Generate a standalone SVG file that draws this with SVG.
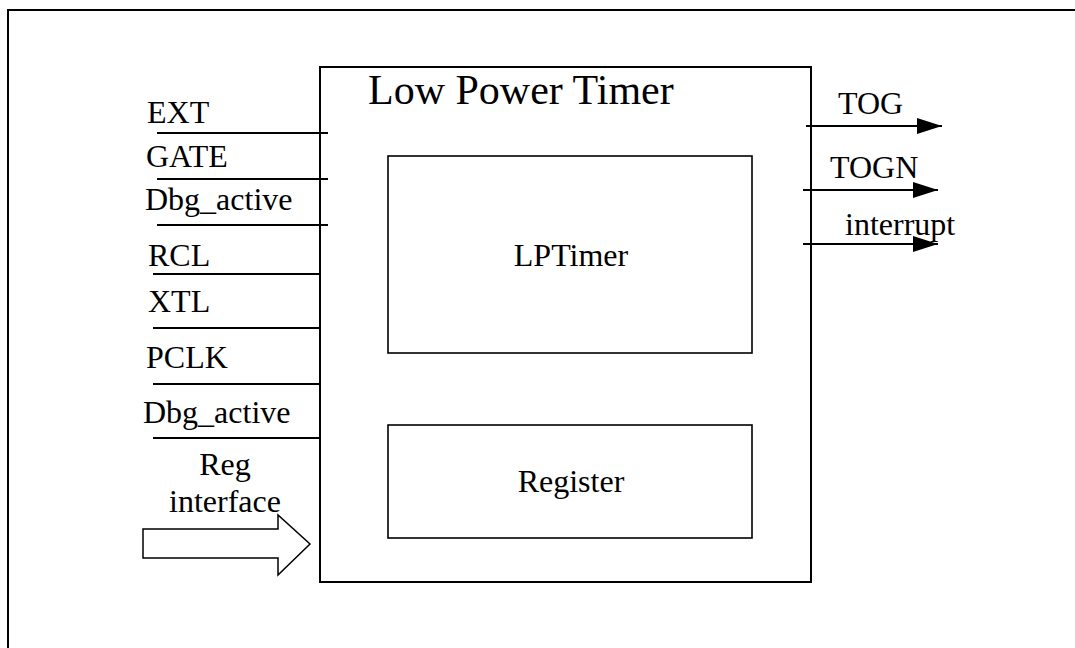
<svg xmlns="http://www.w3.org/2000/svg" width="1075" height="648" viewBox="0 0 1075 648">
<style>
text{font-family:"Liberation Serif","Times New Roman",serif;fill:#000;font-size:32px}
.box{fill:none;stroke:#000;stroke-width:2}
.ln{stroke:#000;stroke-width:2;fill:none}
.mid{text-anchor:middle}
</style>
<defs>
<marker id="ah" viewBox="0 0 25 16" refX="25" refY="8" markerWidth="25" markerHeight="16" markerUnits="userSpaceOnUse" orient="auto">
<path d="M0,0 L25,8 L0,16 Z" fill="#000"/>
</marker>
</defs>
<rect width="1075" height="648" fill="#fff"/>
<rect id="frame" x="8" y="10" width="1100" height="700" class="box"/>
<g id="lpt">
<rect x="320" y="67" width="491" height="515" class="box"/>
<text x="368" y="104" style="font-size:42px">Low Power Timer</text>
</g>
<g id="lptimer">
<rect x="388" y="156" width="364" height="197" class="box" style="stroke-width:1.6"/>
<text x="571" y="266" class="mid">LPTimer</text>
</g>
<g id="register">
<rect x="388" y="425" width="364" height="113" class="box" style="stroke-width:1.6"/>
<text x="571" y="492" class="mid">Register</text>
</g>
<g id="connectors">
<line x1="157" y1="133" x2="328" y2="133" class="ln"/>
<line x1="157" y1="179" x2="328" y2="179" class="ln"/>
<line x1="157" y1="225" x2="328" y2="225" class="ln"/>
<line x1="153" y1="274" x2="320" y2="274" class="ln"/>
<line x1="153" y1="328" x2="320" y2="328" class="ln"/>
<line x1="153" y1="384" x2="320" y2="384" class="ln"/>
<line x1="153" y1="438" x2="320" y2="438" class="ln"/>
<polygon points="143,529 278,529 278,515 310,544 278,575 278,558 143,558" fill="#fff" stroke="#000" stroke-width="1.5"/>
<line x1="806" y1="126" x2="942" y2="126" class="ln" marker-end="url(#ah)"/>
<line x1="803" y1="190" x2="938" y2="190" class="ln" marker-end="url(#ah)"/>
<line x1="803" y1="244" x2="938" y2="244" class="ln" marker-end="url(#ah)"/>
</g>
<g id="labels">
<text x="147" y="123">EXT</text>
<text x="146" y="167">GATE</text>
<text x="145" y="210">Dbg_active</text>
<text x="148" y="266">RCL</text>
<text x="148" y="312">XTL</text>
<text x="146" y="368">PCLK</text>
<text x="143" y="423">Dbg_active</text>
<text x="225" y="475" class="mid">Reg</text>
<text x="225" y="512" class="mid">interface</text>
<text x="838" y="114">TOG</text>
<text x="830" y="178">TOGN</text>
<text x="845" y="235">interrupt</text>
</g>
</svg>
